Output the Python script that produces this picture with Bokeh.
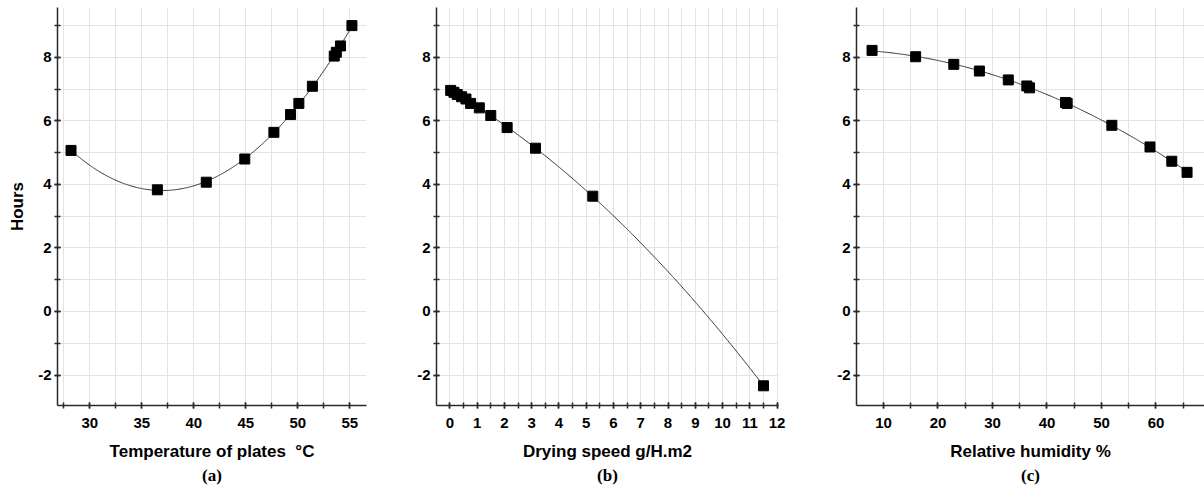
import numpy as np
from bokeh.plotting import figure
from bokeh.models import FixedTicker, Title, Range1d
from bokeh.layouts import row
from bokeh.embed import file_html
from bokeh.resources import INLINE

# ---- data ----
temp_x = [28.2, 36.5, 41.2, 44.9, 47.7, 49.3, 50.1, 51.4, 53.5, 53.7, 54.1, 55.2]
temp_y = [5.07, 3.83, 4.07, 4.8, 5.64, 6.2, 6.55, 7.09, 8.04, 8.16, 8.36, 9.0]

speed_x = [0.03, 0.15, 0.27, 0.43, 0.59, 0.76, 1.08, 1.5, 2.1, 3.14, 5.24, 11.5]
speed_y = [6.96, 6.9, 6.83, 6.76, 6.69, 6.55, 6.41, 6.17, 5.79, 5.14, 3.63, -2.34]

hum_x = [7.9, 15.9, 22.9, 27.6, 32.9, 36.3, 36.8, 43.4, 43.7, 51.9, 58.9, 62.9, 65.7]
hum_y = [8.22, 8.02, 7.78, 7.57, 7.29, 7.1, 7.04, 6.58, 6.55, 5.86, 5.18, 4.73, 4.38]

y_major = [-2, 0, 2, 4, 6, 8]
y_minor = [-2, -1, 0, 1, 2, 3, 4, 5, 6, 7, 8, 9]
y_labels = {-2: "-2", 0: "0", 2: "2", 4: "4", 6: "6", 8: "8"}

FONT = "Liberation Sans"
GRID = "#e3e3e3"
AX = "#2a2a2a"


def panel(x, y, deg, xr, xmaj, xmin, xlabel, tag, width, left, right, ylabel=None):
    p = figure(width=width, height=492, x_range=Range1d(*xr), y_range=Range1d(-2.96, 9.57),
               output_backend="svg", toolbar_location=None,
               min_border_left=left, min_border_right=right, min_border_top=7, min_border_bottom=87)
    p.outline_line_color = None
    p.background_fill_color = "white"
    p.border_fill_color = "white"

    xt = FixedTicker(ticks=xmaj, minor_ticks=xmin)
    yt = FixedTicker(ticks=y_major, minor_ticks=y_minor)
    p.xaxis.ticker = xt
    p.yaxis.ticker = yt
    p.xgrid.ticker = xt
    p.ygrid.ticker = yt
    p.yaxis.major_label_overrides = y_labels
    for g in (p.xgrid, p.ygrid):
        g.grid_line_color = GRID
        g.grid_line_width = 1
        g.minor_grid_line_color = GRID
        g.minor_grid_line_width = 1

    for ax in (p.xaxis, p.yaxis):
        ax.axis_line_color = AX
        ax.axis_line_width = 1.5
        ax.major_tick_line_color = AX
        ax.minor_tick_line_color = AX
        ax.major_tick_line_width = 1.5
        ax.minor_tick_line_width = 1.5
        ax.major_tick_in = 3
        ax.major_tick_out = 3
        ax.minor_tick_in = 3
        ax.minor_tick_out = 3
        ax.major_label_text_font = FONT
        ax.major_label_text_font_style = "bold"
        ax.major_label_text_font_size = "15px"
        ax.major_label_text_color = "black"
        ax.axis_label_text_font = FONT
        ax.axis_label_text_font_style = "bold"
        ax.axis_label_text_font_size = "17px"
        ax.axis_label_text_color = "black"

    p.xaxis.major_label_standoff = 9
    p.yaxis.major_label_standoff = 3
    p.xaxis.axis_label = xlabel
    p.xaxis.axis_label_standoff = 11
    if ylabel:
        p.yaxis.axis_label = ylabel
        p.yaxis.axis_label_standoff = 8

    coeffs = np.polyfit(np.array(x), np.array(y), deg)
    xs = np.linspace(min(x), max(x), 300)
    p.line(xs, np.polyval(coeffs, xs), line_color="#333333", line_width=1)
    p.scatter(x, y, marker="square", size=10, fill_color="black", line_color="black")

    p.add_layout(Title(text=tag, align="center", text_font="Liberation Serif",
                       text_font_size="17px", text_font_style="bold", text_color="black",
                       standoff=0), "below")
    return p


pa = panel(temp_x, temp_y, 3, (26.9, 56.6), [30, 35, 40, 45, 50, 55],
           [27.5 + 2.5 * i for i in range(12)], "Temperature of plates \u00a0\u00b0C", "(a)",
           400, 57, 34, ylabel="Hours")
pb = panel(speed_x, speed_y, 2, (-0.49, 12.05), list(range(13)),
           [0.5 * i for i in range(0, 25)], "Drying speed g/H.m2", "(b)",
           400, 36, 22)
pc = panel(hum_x, hum_y, 2, (5.05, 68.9), [10, 20, 30, 40, 50, 60],
           [5 * i for i in range(1, 14)], "Relative humidity %", "(c)",
           404, 56, 0)

layout = row(pa, pb, pc)
open("out.html", "w").write(file_html(layout, INLINE))
